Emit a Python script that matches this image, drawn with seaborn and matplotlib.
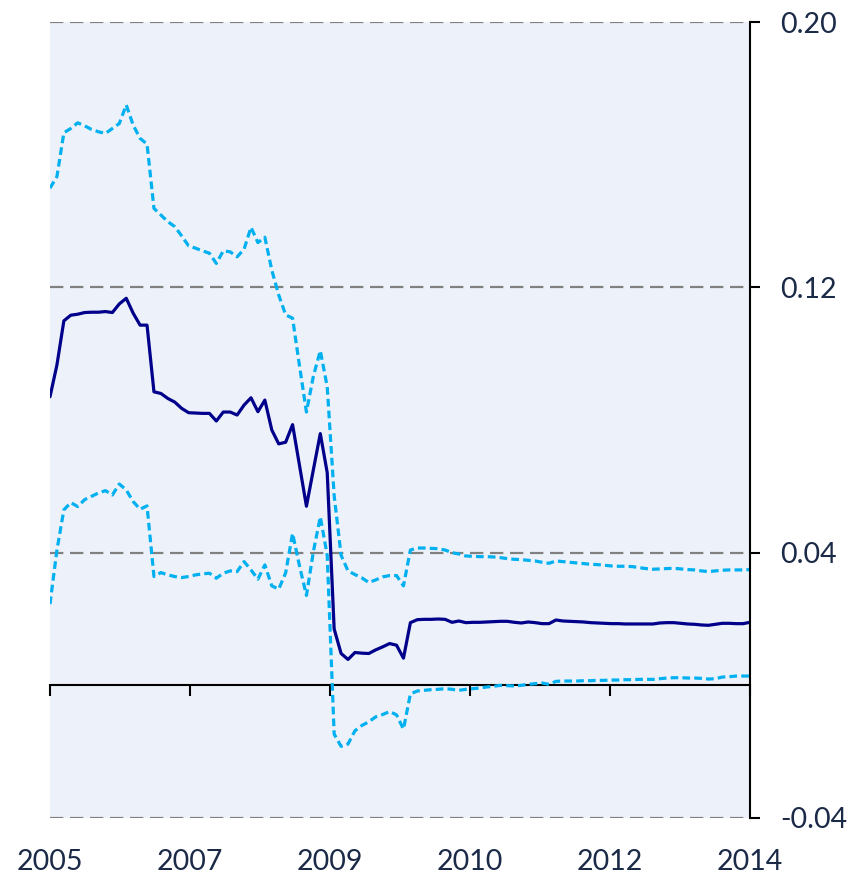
import numpy as np
import pandas as pd
import matplotlib
matplotlib.use("Agg")
import matplotlib.pyplot as plt
import seaborn as sns

# valori (serie mensile, 102 punti)
mesi = np.arange(102)

centrale = [
    0.0870, 0.0966, 0.1099, 0.1116, 0.1119, 0.1124, 0.1125, 0.1125, 0.1127, 0.1124,
    0.1150, 0.1167, 0.1122, 0.1086, 0.1086, 0.0885, 0.0880, 0.0865, 0.0854, 0.0835,
    0.0822, 0.0821, 0.0820, 0.0820, 0.0797, 0.0824, 0.0824, 0.0815, 0.0845, 0.0867,
    0.0825, 0.0860, 0.0770, 0.0728, 0.0733, 0.0786, 0.0663, 0.0540, 0.0650, 0.0759,
    0.0641, 0.0170, 0.0096, 0.0078, 0.0099, 0.0097, 0.0096, 0.0107, 0.0116, 0.0126,
    0.0121, 0.0082, 0.0189, 0.0198, 0.0199, 0.0199, 0.0200, 0.0199, 0.0190, 0.0194,
    0.0189, 0.0190, 0.0190, 0.0191, 0.0192, 0.0193, 0.0193, 0.0190, 0.0188, 0.0191,
    0.0189, 0.0186, 0.0186, 0.0197, 0.0194, 0.0193, 0.0192, 0.0191, 0.0189, 0.0188,
    0.0187, 0.0186, 0.0186, 0.0185, 0.0185, 0.0185, 0.0185, 0.0185, 0.0188, 0.0189,
    0.0189, 0.0187, 0.0185, 0.0184, 0.0182, 0.0181, 0.0184, 0.0187, 0.0187, 0.0186,
    0.0186, 0.0190,
]

superiore = [
    0.1499, 0.1534, 0.1666, 0.1679, 0.1696, 0.1687, 0.1676, 0.1669, 0.1664, 0.1679,
    0.1694, 0.1750, 0.1689, 0.1649, 0.1632, 0.1438, 0.1418, 0.1398, 0.1383, 0.1355,
    0.1325, 0.1318, 0.1310, 0.1303, 0.1272, 0.1310, 0.1307, 0.1292, 0.1315, 0.1381,
    0.1335, 0.1351, 0.1252, 0.1177, 0.1117, 0.1107, 0.0963, 0.0824, 0.0932, 0.1009,
    0.0900, 0.0572, 0.0392, 0.0345, 0.0334, 0.0324, 0.0310, 0.0318, 0.0327, 0.0331,
    0.0331, 0.0300, 0.0408, 0.0414, 0.0414, 0.0413, 0.0412, 0.0408, 0.0400, 0.0396,
    0.0390, 0.0389, 0.0388, 0.0388, 0.0387, 0.0385, 0.0382, 0.0380, 0.0379, 0.0377,
    0.0375, 0.0371, 0.0368, 0.0375, 0.0373, 0.0371, 0.0369, 0.0367, 0.0365, 0.0364,
    0.0362, 0.0360, 0.0359, 0.0359, 0.0358, 0.0355, 0.0352, 0.0350, 0.0351, 0.0352,
    0.0353, 0.0351, 0.0349, 0.0348, 0.0345, 0.0343, 0.0345, 0.0347, 0.0348, 0.0348,
    0.0348, 0.0349,
]

inferiore = [
    0.0245, 0.0408, 0.0529, 0.0551, 0.0539, 0.0560, 0.0570, 0.0580, 0.0587, 0.0574,
    0.0607, 0.0589, 0.0554, 0.0531, 0.0541, 0.0328, 0.0340, 0.0333, 0.0328, 0.0325,
    0.0328, 0.0333, 0.0336, 0.0338, 0.0323, 0.0338, 0.0345, 0.0343, 0.0373, 0.0348,
    0.0320, 0.0363, 0.0300, 0.0290, 0.0339, 0.0458, 0.0360, 0.0271, 0.0403, 0.0508,
    0.0392, -0.0147, -0.0184, -0.0177, -0.0137, -0.0121, -0.0110, -0.0095, -0.0088, -0.0079,
    -0.0089, -0.0132, -0.0026, -0.0017, -0.0015, -0.0013, -0.0012, -0.0010, -0.0012, -0.0015,
    -0.0012, -0.0010, -0.0008, -0.0005, -0.0003, 0.0000, -0.0001, -0.0002, 0.0000, 0.0003,
    0.0005, 0.0007, 0.0003, 0.0012, 0.0013, 0.0013, 0.0013, 0.0014, 0.0014, 0.0015,
    0.0015, 0.0016, 0.0016, 0.0017, 0.0017, 0.0018, 0.0018, 0.0018, 0.0020, 0.0022,
    0.0023, 0.0023, 0.0022, 0.0022, 0.0021, 0.0019, 0.0020, 0.0025, 0.0026, 0.0028,
    0.0028, 0.0028,
]

anni = ['2005', '2007', '2009', '2010', '2012', '2014']
pos_anni = np.linspace(0, 101, 6)
valori_y = [-0.04, 0.04, 0.12, 0.20]
etichette_y = ['-0.04', '0.04', '0.12', '0.20']

df = pd.DataFrame({'mese': mesi, 'centrale': centrale,
                   'superiore': superiore, 'inferiore': inferiore})

sns.set_style('white')
plt.rcParams['font.family'] = ['Lato', 'DejaVu Sans']
col_testo = '#1B2A47'

fig = plt.figure(figsize=(8.65, 8.76), dpi=100)
ax = fig.add_axes([50 / 865, 1 - 818 / 876, 700 / 865, 796 / 876])
ax.set_facecolor('#EDF2FA')

# bande (tratteggiate) e stima centrale
for col in ['superiore', 'inferiore']:
    sns.lineplot(data=df, x='mese', y=col, ax=ax, color='#00B0F0',
                 linewidth=2.3, linestyle=(0, (2.4, 1.3)))
sns.lineplot(data=df, x='mese', y='centrale', ax=ax, color='#00008B', linewidth=2.3)

ax.set_xlim(0, 101)
ax.set_ylim(-0.04, 0.20)

# griglia orizzontale tratteggiata
ax.set_yticks(valori_y)
ax.set_yticklabels(etichette_y)
ax.grid(axis='y', color='#808080', linestyle=(0, (6, 3)), linewidth=1.6)
ax.grid(axis='x', visible=False)

# asse y a destra
ax.yaxis.tick_right()
ax.tick_params(axis='y', which='both', right=True, left=False, direction='out',
               length=7, width=1.5, color='black', pad=15, labelsize=20.5,
               labelcolor=col_testo)
for lato in ['left', 'top', 'bottom']:
    ax.spines[lato].set_visible(False)
ax.spines['right'].set_color('black')
ax.spines['right'].set_linewidth(1.5)

# etichette anni in basso
ax.set_xticks(pos_anni)
ax.set_xticklabels(anni)
ax.tick_params(axis='x', length=0, pad=22, labelsize=20.5, labelcolor=col_testo)
ax.set_xlabel('')
ax.set_ylabel('')

# asse orizzontale sullo zero con tacche
sec = ax.secondary_xaxis(0, transform=ax.transData)
sec.set_xticks(pos_anni)
sec.set_xticklabels([])
sec.tick_params(axis='x', direction='out', length=8, width=1.5, color='black')
sec.spines['bottom'].set_color('black')
sec.spines['bottom'].set_linewidth(1.5)

fig.savefig('out.png', dpi=100)
